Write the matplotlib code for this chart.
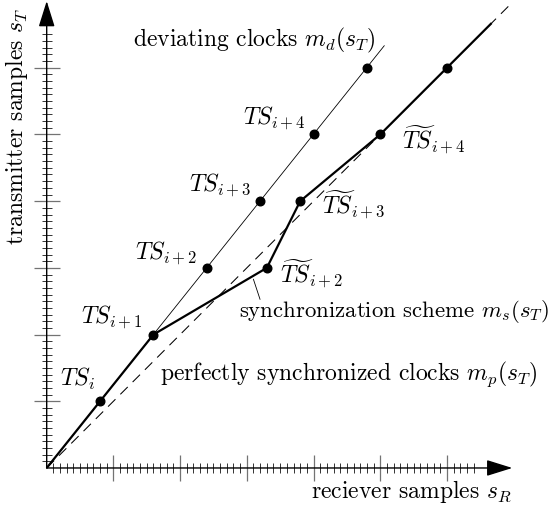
import matplotlib
matplotlib.use("Agg")
import matplotlib.pyplot as plt
import numpy as np

plt.rcParams['font.family'] = ['cmr10', 'DejaVu Serif']
plt.rcParams['mathtext.fontset'] = 'cm'
plt.rcParams['axes.formatter.use_mathtext'] = True
plt.rcParams['lines.scale_dashes'] = False

# deviating clocks: time stamps TS_i ... TS_{i+5}
dev_x = [0.8, 1.6, 2.4, 3.2, 4.0, 4.8]
dev_y = [1, 2, 3, 4, 5, 6]
dev_line_x = [0, 5.06]
dev_line_y = [0, 6.33]

# synchronization scheme m_s(s_T)
sync_x = [0, 0.8, 1.6, 3.3, 3.8, 5.0, 6.0, 6.67]
sync_y = [0, 1, 2, 3, 4, 5, 6, 6.67]

# perfectly synchronized clocks m_p(s_T)
perf_x = [0, 6.95]
perf_y = [0, 6.95]

ts_labels = [r'$TS_i$', r'$TS_{i+1}$', r'$TS_{i+2}$', r'$TS_{i+3}$', r'$TS_{i+4}$']
ts_pos = [(0.724, 1.229), (1.439, 2.159), (2.249, 3.118), (3.073, 4.142), (3.873, 5.142)]
tts_labels = [r'$\widetilde{TS}_{i+2}$', r'$\widetilde{TS}_{i+3}$', r'$\widetilde{TS}_{i+4}$']
tts_pos = [(3.498, 2.769), (4.123, 3.793), (5.322, 4.778)]

fs = 17

fig = plt.figure(figsize=(5.55, 5.14), dpi=100)
ax = fig.add_axes([0, 0, 1, 1])
ax.set_xlim(-0.700, 7.620)
ax.set_ylim(-0.690, 7.016)

for s in ['top', 'right']:
    ax.spines[s].set_visible(False)
for s in ['left', 'bottom']:
    ax.spines[s].set_position(('data', 0))
    ax.spines[s].set_color('none')

ax.set_xticks(np.arange(1, 7))
ax.set_yticks(np.arange(1, 7))
ax.set_xticks(np.arange(1, 65) / 10, minor=True)
ax.set_yticks(np.arange(1, 66) / 10, minor=True)
ax.set_xticklabels([])
ax.set_yticklabels([])
ax.tick_params(which='major', direction='inout', length=19, width=0.9, color='0.45')
ax.tick_params(which='minor', direction='inout', length=7.8, width=0.7, color='0.2')

# axes with arrows
arrow = dict(arrowstyle='-|>,head_length=0.8,head_width=0.25', color='black',
             lw=1.0, shrinkA=0, shrinkB=0, mutation_scale=20)
ax.annotate('', xy=(6.98, 0), xytext=(0, 0), arrowprops=arrow)
ax.annotate('', xy=(0, 7.0), xytext=(0, 0), arrowprops=arrow)

ax.plot(perf_x, perf_y, color='black', lw=0.75, dashes=(7.5, 5))
ax.plot(dev_line_x, dev_line_y, color='black', lw=0.6)
ax.plot(sync_x, sync_y, color='black', lw=1.6, solid_capstyle='butt')
ax.plot(dev_x, dev_y, 'o', color='black', ms=6.2, zorder=5)
ax.plot(sync_x[3:7], sync_y[3:7], 'o', color='black', ms=6.2, zorder=5)

for lab, (x, y) in zip(ts_labels, ts_pos):
    ax.text(x, y, lab, fontsize=fs, ha='right', va='baseline')
for lab, (x, y) in zip(tts_labels, tts_pos):
    ax.text(x, y, lab, fontsize=fs, ha='left', va='baseline')

ax.text(1.295, 6.327, r'deviating clocks $m_d(s_T)$', fontsize=fs, ha='left', va='baseline')
ax.text(2.890, 2.264, r'synchronization scheme $m_s(s_T)$', fontsize=16.4, ha='left', va='baseline')
ax.plot([3.099, 3.198], [2.829, 2.529], color='black', lw=0.6)
ax.text(1.699, 1.319, r'perfectly synchronized clocks $m_p(s_T)$', fontsize=fs, ha='left', va='baseline')
ax.text(6.972, -0.450, r'reciever samples $s_R$', fontsize=fs, ha='right', va='baseline')
ax.text(-0.46, 6.897, r'transmitter samples $s_T$', fontsize=fs, rotation=90, ha='center', va='top')

fig.savefig('out.png', dpi=100)
